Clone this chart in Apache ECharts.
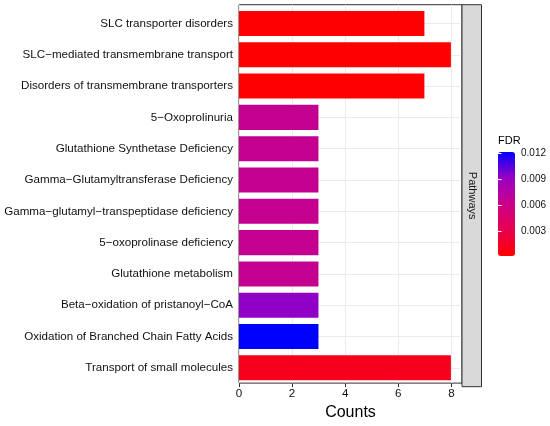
<!DOCTYPE html>
<html>
<head>
<meta charset="utf-8">
<script src="https://cdn.jsdelivr.net/npm/echarts@6/dist/echarts.min.js"></script>
<style>
html, body { margin: 0; padding: 0; background: #fff; }
#chart { width: 550px; height: 426px; }
</style>
</head>
<body>
<div id="chart"></div>
<script>
var pathways = [
    'SLC transporter disorders',
    'SLC\u2212mediated transmembrane transport',
    'Disorders of transmembrane transporters',
    '5\u2212Oxoprolinuria',
    'Glutathione Synthetase Deficiency',
    'Gamma\u2212Glutamyltransferase Deficiency',
    'Gamma\u2212glutamyl\u2212transpeptidase deficiency',
    '5\u2212oxoprolinase deficiency',
    'Glutathione metabolism',
    'Beta\u2212oxidation of pristanoyl\u2212CoA',
    'Oxidation of Branched Chain Fatty Acids',
    'Transport of small molecules'
];
var counts = [7, 8, 7, 3, 3, 3, 3, 3, 3, 3, 3, 8];
var fdr = [0.00019, 0.00019, 0.00019, 0.0066, 0.0066, 0.0066, 0.0066, 0.0066, 0.0066, 0.0094, 0.0122, 0.0012];
var countTicks = [0, 2, 4, 6, 8];
var fdrTicks = [0.003, 0.006, 0.009, 0.012];

// red -> blue, sampled in Lab like ggplot does
var fdrColors = ['#FF0000', '#E80050', '#CA0089', '#9A00C3', '#0000FF'];

function initChart() {
    var chart = echarts.init(document.getElementById('chart'));
    var fdrMin = Math.min.apply(null, fdr);
    var fdrMax = Math.max.apply(null, fdr);
    var option = {
        animation: false,
        textStyle: { fontFamily: 'Liberation Sans' },
        title: {
            text: 'FDR',
            left: 498,
            top: 135,
            padding: 0,
            textStyle: { fontSize: 11, fontWeight: 'normal', color: '#000' }
        },
        grid: [
            // bars
            { left: 239, top: 7.8, width: 222.5, height: 375.7 },
            // panel frame
            { left: 239, top: 4.7, width: 223, height: 382, show: true, borderColor: '#333', borderWidth: 1 },
            // colour bar ticks
            { left: 498, top: 152, width: 17, height: 104 }
        ],
        xAxis: [{
            gridIndex: 0,
            type: 'value',
            min: 0,
            max: 8.4,
            show: false
        }, {
            gridIndex: 1,
            type: 'value',
            min: 0,
            max: 8.4,
            interval: 1,
            axisLine: { show: false },
            axisTick: { length: 4, lineStyle: { color: '#333' }, customValues: countTicks },
            axisLabel: { customValues: countTicks, fontSize: 11.6, color: '#111', margin: 5 },
            splitLine: { show: true, lineStyle: { color: '#EBEBEB', width: 1 } },
            name: 'Counts',
            nameLocation: 'middle',
            nameGap: 20,
            nameTextStyle: { fontSize: 16, color: '#000' }
        }, {
            gridIndex: 2,
            type: 'value',
            show: false
        }],
        yAxis: [{
            gridIndex: 0,
            type: 'category',
            inverse: true,
            data: pathways,
            axisLine: { show: false },
            axisTick: { alignWithLabel: true, length: 4, lineStyle: { color: '#333' } },
            axisLabel: { fontSize: 11.6, color: '#111', margin: 6 },
            splitLine: { show: true, alignWithLabel: true, lineStyle: { color: '#EBEBEB', width: 1 } }
        }, {
            gridIndex: 1,
            type: 'value',
            show: false
        }, {
            gridIndex: 2,
            type: 'value',
            position: 'right',
            min: fdrMin,
            max: fdrMax,
            z: 6,
            axisLine: { show: false },
            axisTick: { inside: true, length: 3.5, lineStyle: { color: '#fff' }, customValues: fdrTicks },
            axisLabel: {
                customValues: fdrTicks,
                fontSize: 10,
                color: '#111',
                margin: 6,
                formatter: function (v) { return v.toFixed(3); }
            },
            splitLine: { show: false }
        }, {
            gridIndex: 2,
            type: 'value',
            position: 'left',
            min: fdrMin,
            max: fdrMax,
            z: 6,
            axisLine: { show: false },
            axisTick: { inside: true, length: 3.5, lineStyle: { color: '#fff' }, customValues: fdrTicks },
            axisLabel: { show: false },
            splitLine: { show: false }
        }],
        visualMap: {
            type: 'continuous',
            seriesIndex: 0,
            dimension: 2,
            min: fdrMin,
            max: fdrMax,
            orient: 'vertical',
            left: 498,
            top: 152,
            itemWidth: 17,
            itemHeight: 104,
            padding: 0,
            calculable: false,
            hoverLink: false,
            inRange: { color: fdrColors }
        },
        graphic: [{
            type: 'rect',
            z: 10,
            shape: { x: 462, y: 4.7, width: 19.5, height: 382 },
            style: { fill: '#D9D9D9', stroke: '#333', lineWidth: 1 }
        }, {
            type: 'text',
            z: 11,
            x: 472,
            y: 195.7,
            rotation: -Math.PI / 2,
            style: {
                text: 'Pathways',
                align: 'center',
                verticalAlign: 'middle',
                fontSize: 11,
                fontFamily: 'Liberation Sans',
                fill: '#1A1A1A'
            }
        }],
        series: [{
            name: 'Counts',
            type: 'bar',
            xAxisIndex: 0,
            yAxisIndex: 0,
            barWidth: '80%',
            encode: { x: 0, y: 1 },
            data: pathways.map(function (p, i) {
                return [counts[i], p, fdr[i]];
            })
        }]
    };
    chart.setOption(option);
    return chart;
}

initChart();
</script>
</body>
</html>
